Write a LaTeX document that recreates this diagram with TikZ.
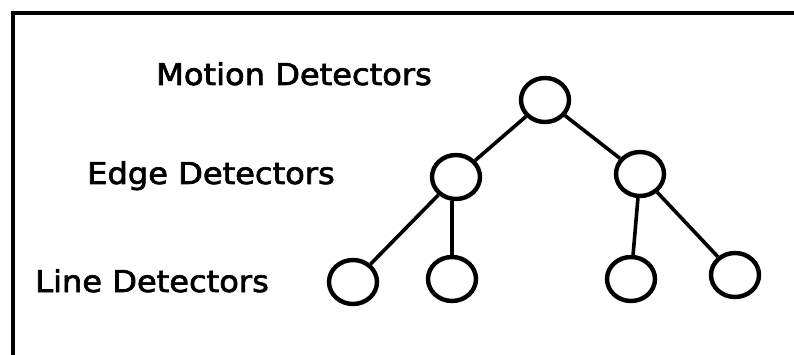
\documentclass[tikz,border=0pt]{standalone}
\usepackage{fontspec}
\usepackage{graphicx}
\setmainfont{DejaVu Sans}
\newfontfamily\labelfont[FakeBold=2.2]{DejaVu Sans}
\usetikzlibrary{shapes.geometric}
\begin{document}
\begin{tikzpicture}[x=1pt,y=-1pt,
  unit/.style={draw, ellipse, line width=4.4pt, minimum width=48pt, minimum height=44pt, inner sep=0pt},
  link/.style={line width=3.6pt},
  level/.style={anchor=base west, inner sep=0pt, font=\labelfont\fontsize{30}{36}\selectfont}]
  \useasboundingbox (0,0) rectangle (794,355);
  % frame: top and left rules only
  \draw[line width=4pt] (13,356) -- (13,13) -- (796,13);

  % level labels
  \node[level] (lm) at (156,85) {\scalebox{1.07}[1]{Motion Detectors}};
  \node[level] (le) at (87,184) {\scalebox{1.07}[1]{Edge Detectors}};
  \node[level] (ll) at (35,292) {\scalebox{1.07}[1]{Line Detectors}};

  % units
  \node[unit] (m)  at (545,100) {};
  \node[unit] (e1) at (456,177) {};
  \node[unit] (e2) at (640,174) {};
  \node[unit] (l1) at (353,282) {};
  \node[unit] (l2) at (452,279) {};
  \node[unit] (l3) at (631,279) {};
  \node[unit] (l4) at (735,275) {};

  % connections
  \draw[link] (m) -- (e1);
  \draw[link] (m) -- (e2);
  \draw[link] (e1) -- (l1);
  \draw[link] (e1.south -| l2) -- (l2);
  \draw[link] (e2) -- (l3);
  \draw[link] (e2) -- (l4);
\end{tikzpicture}
\end{document}
